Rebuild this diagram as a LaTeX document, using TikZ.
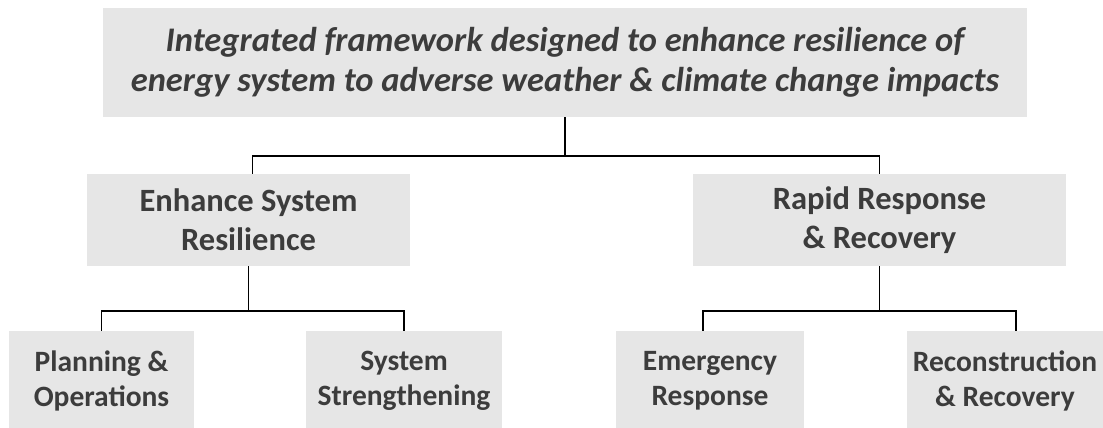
\documentclass[tikz,border=0pt]{standalone}
\usepackage{fontspec}
\setmainfont{Carlito}
\definecolor{boxgray}{HTML}{E6E6E6}
\definecolor{textgray}{HTML}{3C3C3C}
\tikzset{
    box/.style={fill=boxgray, text=textgray, font=\bfseries, align=center, inner sep=0pt},
    link/.style={draw=black, line width=1.6pt}
}
\begin{document}
\begin{tikzpicture}[x=1pt, y=-1pt]
        \useasboundingbox (0,0) rectangle (1103,428);

        \node[box, minimum width=924, minimum height=109, font=\bfseries\itshape\fontsize{34.5}{40}\selectfont] (goal) at (565,62.5)
            {Integrated framework designed to enhance resilience of\\energy system to adverse weather \& climate change impacts};

        \node[box, minimum width=323, minimum height=92, font=\bfseries\fontsize{32.5}{39}\selectfont] (enhance) at (248.5,220) {Enhance System\\Resilience};
        \node[box, minimum width=373, minimum height=92, font=\bfseries\fontsize{32.5}{39}\selectfont] (rapid) at (879.5,220) {Rapid Response\\\& Recovery};

        \node[box, minimum width=185, minimum height=99, font=\bfseries\fontsize{29.5}{35}\selectfont] (planning) at (101.5,380.5) {Planning \&\\Operations};
        \node[box, minimum width=196, minimum height=99, font=\bfseries\fontsize{29.5}{35}\selectfont] (strength) at (404,380.5) {System\\Strengthening};
        \node[box, minimum width=188, minimum height=99, font=\bfseries\fontsize{29.5}{35}\selectfont] (emergency) at (710,380.5) {Emergency\\Response};
        \node[box, minimum width=196, minimum height=99, font=\bfseries\fontsize{29.5}{35}\selectfont] (recon) at (1005,380.5) {Reconstruction\\\& Recovery};

        \draw[link] (goal.south) -- ++(0,39) -| ([xshift=4]enhance.north);
        \draw[link] (goal.south) -- ++(0,39) -| (rapid.north);

        \draw[link] (enhance.south) -- ++(0,45) -| (planning.north);
        \draw[link] (enhance.south) -- ++(0,45) -| (strength.north);

        \draw[link] (rapid.south) -- ++(0,45) -| ([xshift=-7]emergency.north);
        \draw[link] (rapid.south) -- ++(0,45) -| ([xshift=11]recon.north);
    \end{tikzpicture}
\end{document}
